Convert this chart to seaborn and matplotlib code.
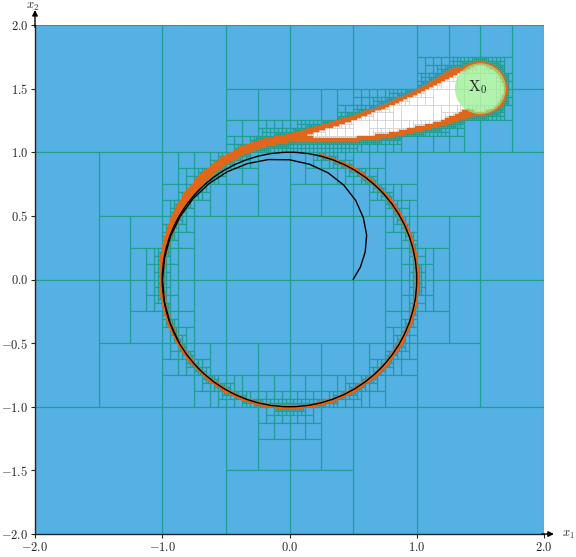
import numpy as np
import matplotlib
matplotlib.use('Agg')
import matplotlib.pyplot as plt
import seaborn as sns
from matplotlib.path import Path
from matplotlib.collections import PolyCollection
from matplotlib.patches import Circle
from matplotlib.ticker import FuncFormatter

# ── values ──────────────────────────────────────────────
DOMAIN = (-2.0, 2.0)

# initial set X0 (disk)
X0_CENTER = (1.5, 1.5)
X0_RADIUS = 0.2

# reach tube, outer edge (polar: angle in degrees, radius)
OUTER_DEG = [48, 52, 55.4, 60.7, 68, 78, 90, 100, 110, 120, 130, 140, 150,
             160, 170, 180, 190, 200, 210, 220, 230, 240, 250, 260, 270,
             280, 290, 300, 310, 320, 330, 340, 350, 360, 370, 380, 390,
             400, 410, 420, 430, 436]
OUTER_R = [2.22, 2.12, 1.83, 1.59, 1.38, 1.23, 1.13, 1.115, 1.10, 1.085,
           1.07, 1.06, 1.045, 1.03, 1.02, 1.015, 1.012, 1.01, 1.009, 1.009,
           1.009, 1.01, 1.01, 1.01, 1.01, 1.01, 1.011, 1.011, 1.011,
           1.011, 1.011, 1.011, 1.01, 1.01, 1.01, 1.009, 1.008, 1.008,
           1.007, 1.006, 1.005, 1.003]

# reach tube, inner edge
INNER_DEG = [41, 45.7, 55, 70, 90, 100, 110, 120, 130, 140, 150, 160, 170,
             180, 190, 200, 210, 220, 230, 240, 250, 260, 270, 280, 290, 300,
             310, 320, 330, 340, 350, 360, 370, 380, 390, 400, 410, 420, 430,
             436]
INNER_R = [1.98, 1.68, 1.36, 1.15, 1.08, 1.065, 1.05, 1.035, 1.02, 1.01,
           1.0, 0.995, 0.993, 0.993, 0.994, 0.995, 0.996, 0.997, 0.998, 0.998,
           0.998, 0.998, 0.998, 0.998, 0.998, 0.998, 0.998, 0.998, 0.998,
           0.998, 0.998, 0.998, 0.998, 0.998, 0.998, 0.999, 0.999, 0.999,
           0.999, 1.0]

# proved-inside (white) part of the tube, left of X0
WHITE_X = [1.40, 1.31, 1.04, 0.78, 0.52, 0.26, 0.08, 0.26, 0.52, 0.78, 1.17, 1.40]
WHITE_Y = [1.66, 1.63, 1.488, 1.375, 1.262, 1.18, 1.125, 1.10, 1.108, 1.138, 1.228, 1.325]

# zone where the paving is refined more eagerly around the tube head
HALO_X = [-0.3, 0.5, 1.0, 1.45, 1.74, 1.74, 1.45, 1.1, 0.7, 0.3, -0.3]
HALO_Y = [0.98, 0.98, 1.02, 1.15, 1.25, 1.85, 1.9, 1.82, 1.62, 1.42, 1.25]

# trajectory starting at (0.5, 0) (polar)
TRAJ_DEG = [0, 10, 20, 30, 40, 50, 60, 70, 80, 90, 100, 110, 120, 130, 140,
            150, 160, 170, 180, 190, 200, 210]
TRAJ_R = [0.50, 0.566, 0.633, 0.70, 0.757, 0.81, 0.855, 0.891, 0.919, 0.941,
          0.957, 0.969, 0.978, 0.984, 0.989, 0.992, 0.995, 0.997, 0.998,
          0.999, 0.999, 1.0]

LIMIT_CYCLE_R = 1.0

X_TICKS = [-2.0, -1.0, 0.0, 1.0, 2.0]
Y_TICKS = [-2.0, -1.5, -1.0, -0.5, 0.0, 0.5, 1.0, 1.5, 2.0]

# ── styles ──────────────────────────────────────────────
BLUE = '#55B1E4'
TEAL = '#1F9E93'
ORANGE = '#E0661B'
GREEN = '#90EE8A'

EPS = 4.0 / 256      # smallest box width
K_PESS = 0.01        # pessimism of the box test
K_HALO = 0.45        # pessimism inside the halo

sns.set_style('ticks')
plt.rcParams['font.family'] = ['DejaVu Serif']
plt.rcParams['mathtext.fontset'] = 'cm'


def polar_xy(deg, r):
    a = np.radians(np.asarray(deg, float))
    r = np.asarray(r, float)
    return np.column_stack([r * np.cos(a), r * np.sin(a)])


# ── rasterised sets for the box tests ───────────────────
N = 2048
h = (DOMAIN[1] - DOMAIN[0]) / N
g = DOMAIN[0] + (np.arange(N) + 0.5) * h
GX, GY = np.meshgrid(g, g)
pts = np.column_stack([GX.ravel(), GY.ravel()])

tube_xy = np.vstack([polar_xy(OUTER_DEG, OUTER_R), polar_xy(INNER_DEG, INNER_R)[::-1]])
dist0 = np.hypot(GX - X0_CENTER[0], GY - X0_CENTER[1])
tube_mask = Path(tube_xy).contains_points(pts).reshape(N, N) | (dist0 <= X0_RADIUS + 0.008)
white_mask = Path(np.column_stack([WHITE_X, WHITE_Y])).contains_points(pts).reshape(N, N)
white_mask |= dist0 <= X0_RADIUS - 0.006
halo_mask = Path(np.column_stack([HALO_X, HALO_Y])).contains_points(pts).reshape(N, N)


def integral(mask):
    s = np.zeros((N + 1, N + 1), dtype=np.int64)
    s[1:, 1:] = mask.astype(np.int64).cumsum(0).cumsum(1)
    return s


S_TUBE = integral(tube_mask)
S_WHITE = integral(white_mask)
S_HALO = integral(halo_mask)


def count(s, x0, x1, y0, y1):
    i0 = int(np.clip(np.ceil((x0 - DOMAIN[0]) / h - 0.5), 0, N))
    i1 = int(np.clip(np.floor((x1 - DOMAIN[0]) / h - 0.5) + 1, 0, N))
    j0 = int(np.clip(np.ceil((y0 - DOMAIN[0]) / h - 0.5), 0, N))
    j1 = int(np.clip(np.floor((y1 - DOMAIN[0]) / h - 0.5) + 1, 0, N))
    if i1 <= i0 or j1 <= j0:
        return 0, 0
    c = s[j1, i1] - s[j0, i1] - s[j1, i0] + s[j0, i0]
    return c, (i1 - i0) * (j1 - j0)


# ── SIVIA-like paving ───────────────────────────────────
out_boxes, in_boxes, bd_boxes = [], [], []
stack = [(DOMAIN[0], DOMAIN[1], DOMAIN[0], DOMAIN[1])]
while stack:
    x0, x1, y0, y1 = stack.pop()
    w = max(x1 - x0, y1 - y0)
    verts = [(x0, y0), (x1, y0), (x1, y1), (x0, y1)]
    ch, nh = count(S_HALO, x0, x1, y0, y1)
    in_halo = nh > 0 and ch == nh
    m = (K_HALO if in_halo else K_PESS) * w
    c, _ = count(S_TUBE, x0 - m, x1 + m, y0 - m, y1 + m)
    if c == 0:
        out_boxes.append(verts)
        continue
    ct, _ = count(S_TUBE, x0, x1, y0, y1)
    mp = K_PESS * w
    cw, n = count(S_WHITE, x0 - mp, x1 + mp, y0 - mp, y1 + mp)
    if n > 0 and cw == n:
        in_boxes.append(verts)
        continue
    if w <= EPS + 1e-12:
        if ct > 0:
            bd_boxes.append(verts)
        else:
            out_boxes.append(verts)
        continue
    if (x1 - x0) >= (y1 - y0):
        xm = 0.5 * (x0 + x1)
        stack += [(x0, xm, y0, y1), (xm, x1, y0, y1)]
    else:
        ym = 0.5 * (y0 + y1)
        stack += [(x0, x1, y0, ym), (x0, x1, ym, y1)]

# ── figure ──────────────────────────────────────────────
fig = plt.figure(figsize=(5.76, 5.57), dpi=100)
ax = fig.add_axes([35 / 576, 1 - 534 / 557, 509 / 576, 509 / 557])

ax.add_collection(PolyCollection(out_boxes, facecolor=BLUE, edgecolor=TEAL, linewidth=0.85, zorder=1))
ax.add_collection(PolyCollection(in_boxes, facecolor='white', edgecolor='#cfcfcf', linewidth=0.5, zorder=2))
ax.add_collection(PolyCollection(bd_boxes, facecolor=ORANGE, edgecolor=ORANGE, linewidth=0.3, zorder=3))

ax.add_patch(Circle((0, 0), LIMIT_CYCLE_R, fill=False, color='black', lw=1.0, zorder=4))
traj = polar_xy(TRAJ_DEG, TRAJ_R)
sns.lineplot(x=traj[:, 0], y=traj[:, 1], sort=False, estimator=None, color='black', lw=1.0, ax=ax, zorder=4)

ax.add_patch(Circle(X0_CENTER, X0_RADIUS, facecolor=GREEN, edgecolor='none', alpha=0.7, zorder=5))
ax.text(X0_CENTER[0] - 0.02, X0_CENTER[1] + 0.01, r'$\mathrm{X}_0$', fontsize=11, ha='center', va='center', zorder=6)

ax.set_xlim(*DOMAIN)
ax.set_ylim(*DOMAIN)
ax.set_xticks(X_TICKS)
ax.set_yticks(Y_TICKS)
fmt = FuncFormatter(lambda v, p: r'$%.1f$' % v)
ax.xaxis.set_major_formatter(fmt)
ax.yaxis.set_major_formatter(fmt)
ax.tick_params(labelsize=9, length=3, width=0.8, direction='out', pad=2)

for s in ['top', 'right']:
    ax.spines[s].set_visible(False)
ax.spines['left'].set_linewidth(1.0)
ax.spines['bottom'].set_linewidth(1.0)

# axis arrows and labels
ax.annotate('', xy=(1.025, 0), xytext=(0.99, 0), xycoords='axes fraction',
            arrowprops=dict(arrowstyle='-|>', color='black', lw=1.0, mutation_scale=8))
ax.annotate('', xy=(0, 1.035), xytext=(0, 0.99), xycoords='axes fraction',
            arrowprops=dict(arrowstyle='-|>', color='black', lw=1.0, mutation_scale=8))
ax.text(1.047, 0.0, r'$x_1$', transform=ax.transAxes, fontsize=9, ha='center', va='center')
ax.text(-0.005, 1.036, r'$x_2$', transform=ax.transAxes, fontsize=9, ha='center', va='center')

plt.savefig('out.png', dpi=100)
plt.close()
